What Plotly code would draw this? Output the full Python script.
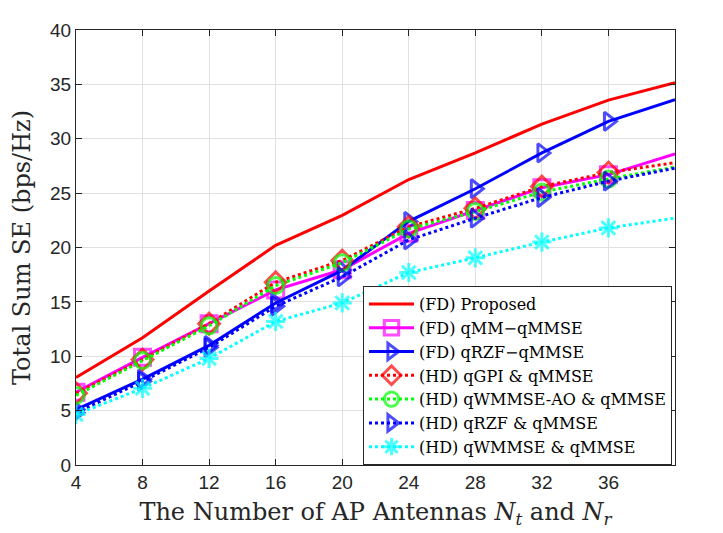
import plotly.graph_objects as go

# antenna counts (x axis)
n_ant = [4, 8, 12, 16, 20, 24, 28, 32, 36, 40]

# sum SE per scheme
fd_proposed = [8.05, 11.7, 16.0, 20.2, 22.95, 26.25, 28.7, 31.35, 33.55, 35.15]
fd_qmm = [6.7, 9.9, 13.0, 16.1, 17.95, 21.3, 23.4, 25.5, 26.7, 28.6]
fd_qrzf = [5.1, 7.9, 11.0, 14.9, 17.9, 22.4, 25.4, 28.7, 31.6, 33.6]
hd_qgpi = [6.6, 9.7, 13.0, 16.8, 18.8, 21.9, 23.6, 25.6, 26.9, 27.8]
hd_qwmmse_ao = [6.4, 9.6, 12.8, 16.5, 18.6, 21.7, 23.3, 25.1, 26.3, 27.4]
hd_qrzf = [4.8, 7.7, 10.8, 14.6, 17.3, 20.7, 22.7, 24.6, 26.1, 27.3]
hd_qwmmse = [4.65, 7.05, 9.8, 13.2, 14.9, 17.7, 19.05, 20.5, 21.8, 22.7]

series = [
    ("(FD) Proposed", fd_proposed, "#ff0000", "solid", None),
    ("(FD) qMM\u2212qMMSE", fd_qmm, "#ff00ff", "solid", "square-open"),
    ("(FD) qRZF\u2212qMMSE", fd_qrzf, "#0000ff", "solid", "triangle-right-open"),
    ("(HD) qGPI &amp; qMMSE", hd_qgpi, "#ff0000", "dot", "diamond-open"),
    ("(HD) qWMMSE-AO &amp; qMMSE", hd_qwmmse_ao, "#00ff00", "dot", "circle-open"),
    ("(HD) qRZF &amp; qMMSE", hd_qrzf, "#0000ff", "dot", "triangle-right-open"),
    ("(HD) qWMMSE &amp; qMMSE", hd_qwmmse, "#00ffff", "dot", "asterisk-open"),
]

serif = "DejaVu Serif, Liberation Serif, serif"
sans = "Liberation Sans Narrow, Liberation Sans, Arial"

fig = go.Figure()
for name, ys, color, dash, sym in series:
    # no marker on the last point (x = 40)
    sizes = [16] * (len(n_ant) - 1) + [0]
    if sym is None:
        mode = "lines"
        marker = None
    else:
        mode = "lines+markers"
        marker = dict(symbol=sym, size=sizes, color=color,
                      line=dict(color=color, width=3))
    fig.add_trace(go.Scatter(x=n_ant, y=ys, name=name, mode=mode,
                             line=dict(color=color, width=3, dash=dash),
                             marker=marker))

axis_common = dict(showline=True, linecolor="#262626", linewidth=1, mirror="ticks",
                   ticks="inside", ticklen=6, tickcolor="#262626",
                   showgrid=True, gridcolor="#e0e0e0", gridwidth=1, zeroline=False,
                   tickfont=dict(family=sans, size=19, color="#262626"))

fig.update_xaxes(range=[4, 40], tickvals=[4, 8, 12, 16, 20, 24, 28, 32, 36],
                 title=dict(text="The Number of AP Antennas <i>N<sub>t</sub></i> and <i>N<sub>r</sub></i>",
                            font=dict(family=serif, size=24, color="#262626"),
                            standoff=11),
                 **axis_common)
fig.update_yaxes(range=[0, 40], dtick=5,
                 title=dict(text="Total Sum SE (bps/Hz)",
                            font=dict(family=serif, size=24, color="#262626"),
                            standoff=13),
                 **axis_common)

# page is drawn with an 8px body offset, so margins are shifted by 8
fig.update_layout(
    width=723, height=533,
    margin=dict(l=68, r=56, t=13, b=76),
    plot_bgcolor="white", paper_bgcolor="white",
    showlegend=True,
    legend=dict(x=0.995, y=0.0, xanchor="right", yanchor="bottom",
                bgcolor="white", bordercolor="#262626", borderwidth=1,
                font=dict(family=serif, size=16, color="black"),
                tracegroupgap=0, itemwidth=45),
)

fig.write_html("out.html")
